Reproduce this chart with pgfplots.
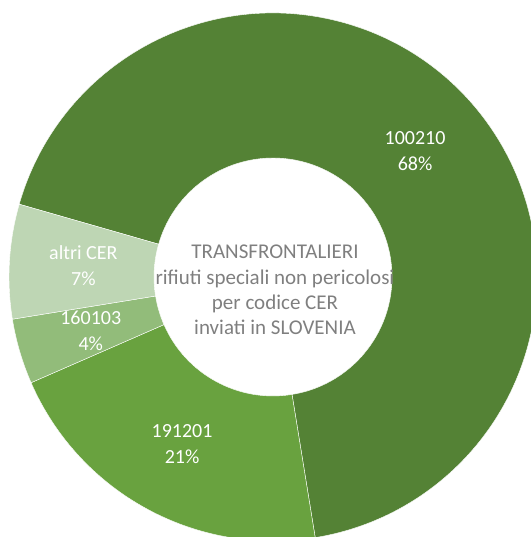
\documentclass[border=0pt]{standalone}
\usepackage{pgfplots}
\pgfplotsset{compat=1.18}
\usepackage{pgfplotstable}
\usepackage{fontspec}
\setmainfont{Carlito}
\definecolor{c0}{HTML}{548235}
\definecolor{c1}{HTML}{69A23F}
\definecolor{c2}{HTML}{92BC7A}
\definecolor{c3}{HTML}{BED6B4}
\definecolor{centergray}{HTML}{7F7F7F}
\pgfplotstableread[col sep=comma]{
label,value
100210,68
191201,21
160103,4
altri CER,7
}\datatable
\newcommand\labfont{\fontsize{20}{26}\selectfont}
\begin{document}
\begin{tikzpicture}
\pgfmathsetmacro\cum{164}
\pgfplotsforeachungrouped \i in {0,...,3}{%
  \pgfplotstablegetelem{\i}{value}\of\datatable
  \let\val\pgfplotsretval
  \expandafter\xdef\csname v\i\endcsname{\val}%
  \expandafter\xdef\csname sa\i\endcsname{\cum}%
  \pgfmathsetmacro\cum{\cum-3.6*\val}%
  \expandafter\xdef\csname ea\i\endcsname{\cum}%
  \pgfplotstablegetelem{\i}{label}\of\datatable
  \expandafter\xdef\csname lab\i\endcsname{\pgfplotsretval}%
}
\begin{axis}[x=1pt,y=1pt,xmin=-273,xmax=257,ymin=-260,ymax=277,
  hide axis,scale only axis,clip=false]
\pgfplotsforeachungrouped \i in {0,...,3}{%
  \pgfmathsetmacro\sa{\csname sa\i\endcsname}%
  \pgfmathsetmacro\ea{\csname ea\i\endcsname}%
  \pgfmathsetmacro\ma{(\sa+\ea)/2}%
  \pgfmathsetmacro\xa{264*cos(\sa)}\pgfmathsetmacro\ya{264*sin(\sa)}%
  \pgfmathsetmacro\xb{119*cos(\ea)}\pgfmathsetmacro\yb{119*sin(\ea)}%
  \pgfmathsetmacro\xl{190*cos(\ma)}\pgfmathsetmacro\yl{190*sin(\ma)}%
  \edef\doit{\noexpand\fill[fill=c\i,draw=white,line width=0.4pt]
    (axis cs:\xa,\ya) arc[start angle=\sa,end angle=\ea,radius=264pt]
    -- (axis cs:\xb,\yb) arc[start angle=\ea,end angle=\sa,radius=119pt] -- cycle;
    \noexpand\node[text=white,align=center,font=\noexpand\labfont,inner sep=0pt]
    at (axis cs:\xl,\yl) {\csname lab\i\endcsname\noexpand\\\csname v\i\endcsname\noexpand\%};}%
  \doit
}
\node[align=center,text=centergray,inner sep=0pt,font=\fontsize{21}{25.3}\selectfont]
  at (axis cs:2,-13) {TRANSFRONTALIERI\\rifiuti speciali non pericolosi\\per codice CER\\inviati in SLOVENIA};
\end{axis}
\pgfresetboundingbox
\path (current axis.south west) rectangle (current axis.north east);
\end{tikzpicture}
\end{document}
